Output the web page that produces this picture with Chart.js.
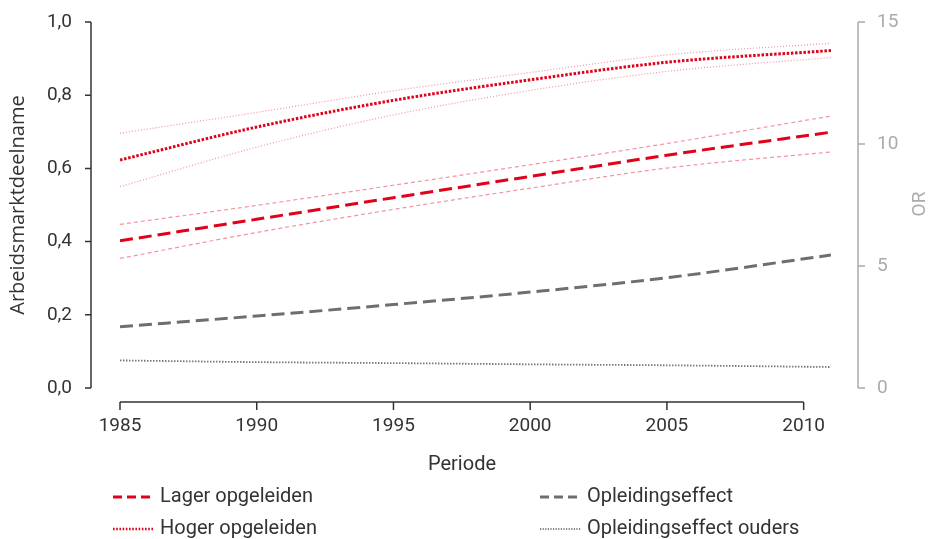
<!DOCTYPE html>
<html>
<head>
<meta charset="utf-8">
<script src="https://cdn.jsdelivr.net/npm/chart.js@4.4.0/dist/chart.umd.min.js"></script>
<style>
  body { margin: 0; background: #fff; }
  #wrap { width: 935px; height: 539px; }
</style>
</head>
<body>
<div id="wrap"><canvas id="chart" width="935" height="539"></canvas></div>
<script>
// jaren en waarden
const jaren = [1985, 1990, 1995, 2000, 2005, 2011];

const lager      = [0.402, 0.461, 0.520, 0.578, 0.636, 0.699];
const lagerBoven = [0.447, 0.499, 0.554, 0.610, 0.668, 0.743];
const lagerOnder = [0.354, 0.425, 0.488, 0.546, 0.601, 0.645];

const hoger      = [0.623, 0.713, 0.786, 0.842, 0.890, 0.922];
const hogerBoven = [0.696, 0.753, 0.812, 0.862, 0.910, 0.942];
const hogerOnder = [0.550, 0.658, 0.746, 0.813, 0.865, 0.903];

// odds ratio's (rechter as)
const opleidingseffect = [2.51, 2.95, 3.42, 3.93, 4.52, 5.45];
const effectOuders     = [1.13, 1.06, 1.02, 0.97, 0.93, 0.86];

const xTicks = [1985, 1990, 1995, 2000, 2005, 2010];
const yTicks = [0, 0.2, 0.4, 0.6, 0.8, 1.0];
const yTickLabels = ["0,0", "0,2", "0,4", "0,6", "0,8", "1,0"];
const orTicks = [0, 5, 10, 15];
const orTickLabels = ["0", "5", "10", "15"];

const ROOD = "#e2001a";
const ROOD_LICHT = "rgba(232, 60, 80, 0.55)";
const GRIJS = "#6e6e6e";
const TEKST = "#333333";
const AS_GRIJS = "#ababab";

const toPoints = (values) => values.map((v, i) => ({ x: jaren[i], y: v }));

function lijn(label, values, color, width, dash, axis) {
  return {
    label: label,
    data: toPoints(values),
    borderColor: color,
    borderWidth: width,
    borderDash: dash,
    borderCapStyle: "butt",
    pointRadius: 0,
    fill: false,
    cubicInterpolationMode: "monotone",
    yAxisID: axis,
  };
}

const legendaItems = [
  { text: "Lager opgeleiden", color: ROOD, width: 3, dash: [9, 5], x: 113, y: 497 },
  { text: "Hoger opgeleiden", color: ROOD, width: 2.5, dash: [1.6, 1.6], x: 113, y: 529 },
  { text: "Opleidingseffect", color: GRIJS, width: 3, dash: [9, 5], x: 540, y: 497 },
  { text: "Opleidingseffect ouders", color: "#808080", width: 1.8, dash: [1.2, 1.4], x: 540, y: 529 },
];

// geen extra ruimte boven/onder door de labels; plotvlak ligt vast
function vastePlek(breedte) {
  return (scale) => {
    scale.width = breedte;
    scale.paddingTop = 0;
    scale.paddingBottom = 0;
  };
}

// losse assen in R-stijl, titels en legenda
const assenPlugin = {
  id: "assen",
  afterDraw(chart) {
    const ctx = chart.ctx;
    const xs = chart.scales.x, ys = chart.scales.y, yr = chart.scales.or;
    ctx.save();

    // linker as
    const axL = 91;
    ctx.strokeStyle = TEKST;
    ctx.lineWidth = 1.5;
    ctx.beginPath();
    ctx.moveTo(axL, ys.getPixelForValue(yTicks[0]));
    ctx.lineTo(axL, ys.getPixelForValue(yTicks[yTicks.length - 1]));
    yTicks.forEach(v => {
      const p = ys.getPixelForValue(v);
      ctx.moveTo(axL - 6, p);
      ctx.lineTo(axL, p);
    });
    ctx.stroke();

    // onderste as
    const axB = 402;
    ctx.beginPath();
    ctx.moveTo(xs.getPixelForValue(xTicks[0]), axB);
    ctx.lineTo(xs.getPixelForValue(xTicks[xTicks.length - 1]), axB);
    xTicks.forEach(v => {
      const p = xs.getPixelForValue(v);
      ctx.moveTo(p, axB);
      ctx.lineTo(p, axB + 8);
    });
    ctx.stroke();

    // rechter as
    const axR = 858;
    ctx.strokeStyle = AS_GRIJS;
    ctx.beginPath();
    ctx.moveTo(axR, yr.getPixelForValue(orTicks[0]));
    ctx.lineTo(axR, yr.getPixelForValue(orTicks[orTicks.length - 1]));
    orTicks.forEach(v => {
      const p = yr.getPixelForValue(v);
      ctx.moveTo(axR, p);
      ctx.lineTo(axR + 7, p);
    });
    ctx.stroke();

    // titels
    ctx.textAlign = "center";
    ctx.textBaseline = "middle";
    ctx.fillStyle = TEKST;
    ctx.font = "20px 'Open Sans'";
    ctx.save();
    ctx.translate(18, 205);
    ctx.rotate(-Math.PI / 2);
    ctx.fillText("Arbeidsmarktdeelname", 0, 0);
    ctx.restore();

    ctx.fillStyle = AS_GRIJS;
    ctx.font = "19px Roboto";
    ctx.save();
    ctx.translate(920, 204);
    ctx.rotate(-Math.PI / 2);
    ctx.fillText("OR", 0, 0);
    ctx.restore();

    ctx.fillStyle = TEKST;
    ctx.font = "20px Roboto";
    ctx.fillText("Periode", 462, 465);

    // legenda
    ctx.textAlign = "left";
    legendaItems.forEach(item => {
      ctx.strokeStyle = item.color;
      ctx.lineWidth = item.width;
      ctx.setLineDash(item.dash);
      ctx.beginPath();
      ctx.moveTo(item.x, item.y);
      ctx.lineTo(item.x + 41, item.y);
      ctx.stroke();
      ctx.setLineDash([]);
      ctx.fillStyle = TEKST;
      ctx.font = "20px Roboto";
      ctx.fillText(item.text, item.x + 47, item.y);
    });

    ctx.restore();
  }
};

new Chart(document.getElementById("chart"), {
  type: "line",
  data: {
    datasets: [
      lijn("Hoger boven", hogerBoven, ROOD_LICHT, 1.2, [1, 2], "y"),
      lijn("Hoger onder", hogerOnder, ROOD_LICHT, 1.2, [1, 2], "y"),
      lijn("Hoger opgeleiden", hoger, ROOD, 3, [2.5, 1.7], "y"),
      lijn("Lager boven", lagerBoven, ROOD_LICHT, 1.2, [4, 3], "y"),
      lijn("Lager onder", lagerOnder, ROOD_LICHT, 1.2, [4, 3], "y"),
      lijn("Lager opgeleiden", lager, ROOD, 3, [13, 6], "y"),
      lijn("Opleidingseffect", opleidingseffect, GRIJS, 3, [13, 6], "or"),
      lijn("Opleidingseffect ouders", effectOuders, "#777777", 1.8, [1.5, 1.5], "or"),
    ],
  },
  options: {
    responsive: false,
    animation: false,
    layout: { padding: { top: 22, bottom: 0, left: 0, right: 0 } },
    plugins: {
      legend: { display: false },
      tooltip: { enabled: false },
    },
    scales: {
      x: {
        type: "linear",
        min: 1985,
        max: 2011,
        afterFit: (scale) => {
          scale.height = 151;
          scale.paddingLeft = 0;
          scale.paddingRight = 0;
        },
        afterBuildTicks: (scale) => { scale.ticks = xTicks.map(v => ({ value: v })); },
        grid: { display: false, drawTicks: false },
        border: { display: false },
        ticks: {
          padding: 27,
          color: TEKST,
          font: { family: "Roboto", size: 19 },
          maxRotation: 0,
          callback: (v) => String(v),
        },
      },
      y: {
        position: "left",
        min: 0,
        max: 1,
        afterFit: vastePlek(120),
        afterBuildTicks: (scale) => { scale.ticks = yTicks.map(v => ({ value: v })); },
        grid: { display: false, drawTicks: false },
        border: { display: false },
        ticks: {
          padding: 48,
          color: TEKST,
          font: { family: "Roboto", size: 19 },
          callback: (v) => yTickLabels[yTicks.indexOf(v)],
        },
      },
      or: {
        position: "right",
        min: 0,
        max: 15,
        afterFit: vastePlek(104),
        afterBuildTicks: (scale) => { scale.ticks = orTicks.map(v => ({ value: v })); },
        grid: { display: false, drawTicks: false },
        border: { display: false },
        ticks: {
          padding: 46,
          color: AS_GRIJS,
          font: { family: "Roboto", size: 19 },
          callback: (v) => orTickLabels[orTicks.indexOf(v)],
        },
      },
    },
  },
  plugins: [assenPlugin],
});
</script>
</body>
</html>
